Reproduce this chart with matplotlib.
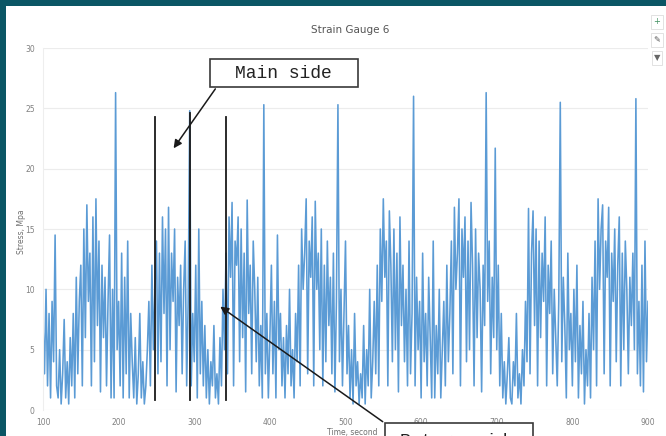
import numpy as np
import matplotlib.pyplot as plt
from matplotlib.patches import Rectangle

# stress readings, one every 2 s from t=100 to t=900
stress = [
    7, 3, 10, 2, 8, 1, 9, 4, 14.5, 2,
    1, 5, 0.5, 3, 7.5, 1, 4, 0.5, 6, 2,
    8, 1, 11, 3, 9, 12, 2, 15, 6, 17,
    9, 13, 2, 16, 4, 17.5, 7, 14, 1.5, 12,
    6, 11, 2, 9, 14.5, 1, 10, 1, 26.3, 5,
    9, 2, 13, 1, 11, 3, 14, 1, 8, 4,
    1, 6, 0.5, 3, 8, 1, 4, 0.5, 2, 5,
    9, 2, 12, 5, 10, 14, 3, 13, 4, 16,
    8, 15, 2, 16.8, 5, 13, 9, 15, 1.5, 11,
    7, 12, 3, 10, 14, 2, 9, 24.8, 2, 8,
    4, 12, 1, 15, 3, 9, 2, 7, 1, 5,
    0.5, 4, 2, 7, 1, 3, 0.5, 6, 2, 10,
    5, 13, 3, 16, 11, 17.2, 2, 14, 12, 16,
    4, 15, 6, 13, 1.5, 17.4, 8, 12, 3, 14,
    10, 4, 11, 2, 7, 1, 25.3, 3, 8, 1,
    6, 12, 3, 9, 1, 14.5, 5, 8, 2, 6,
    1, 7, 3, 10, 2, 5, 1, 8, 4, 12,
    2, 15, 10, 13, 17.5, 3, 14, 11, 16, 2,
    17.3, 10, 13, 5, 15, 2, 12, 4, 14, 7,
    11, 3, 13, 1.5, 9, 25.3, 4, 10, 2, 8,
    14, 3, 7, 1, 5, 0.5, 8, 2, 4, 0.5,
    3, 1, 7, 0.5, 5, 2, 10, 1, 4, 9,
    3, 12, 2, 15, 9, 17.5, 11, 14, 2, 16.5,
    12, 4, 15, 5, 13, 1.5, 16, 7, 12, 4,
    10, 2, 14, 3, 8, 26, 2, 11, 5, 9,
    1, 13, 4, 8, 2, 11, 6, 1, 14, 1,
    7, 3, 10, 1, 5, 9, 2, 12, 4, 8,
    14, 3, 16.8, 10, 13, 17.5, 2, 15, 11, 16,
    4, 14, 5, 17.2, 12, 2, 15, 6, 13, 10,
    1.5, 12, 7, 26.3, 9, 14, 3, 11, 6, 21.7,
    5, 12, 2, 8, 1, 4, 0.5, 3, 6, 1,
    0.5, 4, 2, 8, 1, 3, 0.5, 5, 2, 9,
    4, 16.7, 3, 13, 16.5, 7, 15, 2, 14, 6,
    13, 9, 16, 2, 12, 8, 14, 3, 10, 6,
    2, 9, 25.5, 4, 11, 7, 1, 13, 5, 8,
    2, 10, 4, 12, 1, 7, 3, 9, 0.5, 5,
    2, 8, 1, 11, 5, 14, 2, 17.5, 10, 15,
    17, 3, 14, 11, 16.8, 2, 13, 9, 15, 4,
    12, 16, 2, 13, 5, 14, 10, 3, 11, 7,
    13, 5, 25.8, 3, 9, 2, 12, 1.5, 14, 4,
    9,
]
time = np.arange(100, 901, 2)

# hand-drawn black marker lines
marker_x = [248, 294, 342]
marker_top = [24.3, 24.6, 24.3]
marker_bottom = 0.8

x_ticks = [100, 200, 300, 400, 500, 600, 700, 800, 900]
y_ticks = [0, 5, 10, 15, 20, 25, 30]

fig = plt.figure(figsize=(6.66, 4.36), dpi=100)
fig.patch.set_facecolor('#0b5665')
fig.patches.append(Rectangle((6 / 666, 0), 1, 1 - 6 / 436, transform=fig.transFigure,
                             facecolor='white', edgecolor='none', zorder=-5))

ax = fig.add_axes([43 / 666, 1 - 410 / 436, (648 - 43) / 666, (410 - 48) / 436])
ax.set_facecolor('white')
ax.plot(time, stress, color='#5b9bd5', lw=1.15)

for mx, mt in zip(marker_x, marker_top):
    ax.plot([mx, mx], [marker_bottom, mt], color='#1a1a1a', lw=1.3)

ax.set_xlim(100, 900)
ax.set_ylim(0, 30)
ax.set_xticks(x_ticks)
ax.set_yticks(y_ticks)
ax.tick_params(length=0, labelsize=5.5, labelcolor='#808080', pad=6)
ax.grid(axis='y', color='#ececec', lw=0.8)
ax.set_axisbelow(True)
for s in ['top', 'right', 'bottom']:
    ax.spines[s].set_visible(False)
ax.spines['left'].set_color('#eeeeee')

fig.text(350 / 666, 1 - 30 / 436, 'Strain Gauge 6', ha='center', va='center',
         fontsize=7.5, color='#555555')
fig.text(22 / 666, 1 - 232 / 436, 'Stress, Mpa', rotation=90, ha='center', va='center',
         fontsize=5.5, color='#707070')
fig.text(352 / 666, 1 - 432 / 436, 'Time, second', ha='center', va='center',
         fontsize=5.5, color='#707070')

# annotation boxes
box_kw = dict(facecolor='white', edgecolor='#3a3a3a', lw=1.2, clip_on=False, zorder=5)
ax.add_patch(Rectangle((320.8, 26.8), 195.7, 2.25, **box_kw))
ax.text(418, 27.9, 'Main side', ha='center', va='center', fontsize=13,
        family='Liberation Mono', color='#222222', zorder=6, clip_on=False)
ax.annotate('', xy=(270.6, 21.5), xytext=(330, 26.8),
            arrowprops=dict(arrowstyle='-|>', color='#1a1a1a', lw=1.1, mutation_scale=12),
            annotation_clip=False, zorder=6)

ax.add_patch(Rectangle((552.2, -4.0), 195.7, 2.9, **box_kw))
ax.text(650, -2.65, 'Return side', ha='center', va='center', fontsize=13,
        family='Liberation Mono', color='#222222', zorder=6, clip_on=False)
ax.annotate('', xy=(331.4, 8.7), xytext=(552.2, -1.1),
            arrowprops=dict(arrowstyle='-|>', color='#1a1a1a', lw=1.1, mutation_scale=12),
            annotation_clip=False, zorder=6)

# chart toolbar icons
for yy, sym, col in [(22, '+', '#3f8f5f'), (40, '✎', '#555555'), (58, '▼', '#666666')]:
    fig.text(657 / 666, 1 - yy / 436, sym, ha='center', va='center', fontsize=6, color=col,
             bbox=dict(boxstyle='square,pad=0.25', facecolor='white', edgecolor='#dddddd', lw=0.6))

fig.savefig('out.png', dpi=100, facecolor=fig.get_facecolor())
